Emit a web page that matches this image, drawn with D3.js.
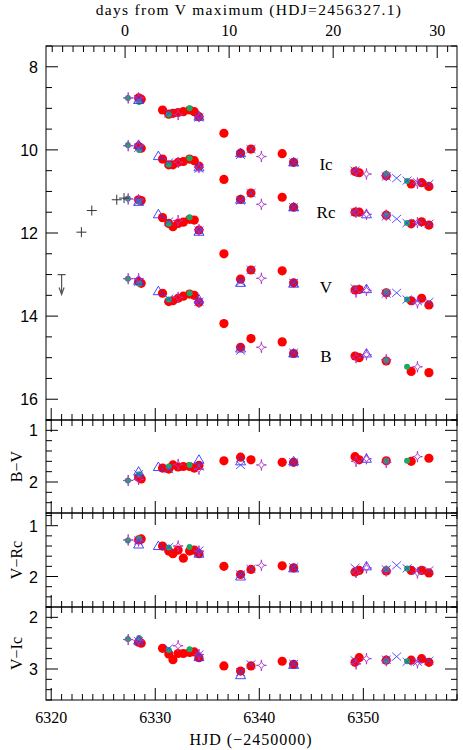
<!DOCTYPE html>
<html><head><meta charset="utf-8">
<script src="https://cdn.jsdelivr.net/npm/d3@7"></script>
<style>body{margin:0;background:#fff}</style>
</head><body>
<script>
const T0 = 6327.1;
const bandNames = ["Ic","Rc","V","B"];
// red filled circles
const redT  = [6328.4,6328.65,6330.7,6331.3,6331.7,6332.2,6332.7,6333.3,6333.75,6334.2,6336.6,6338.2,6339.2,6342.2,6343.3,6349.2,6349.6,6352.2,6354.6,6355.6,6356.3];
const redIc = [8.75,8.78,9.04,9.14,9.12,9.10,9.08,9.04,9.08,9.2,9.6,10.08,9.98,10.09,10.3,10.52,10.55,10.62,10.82,10.79,10.88];
const redRc = [9.92,9.96,10.22,10.36,10.36,10.30,10.28,10.22,10.26,10.39,10.71,11.19,11.04,11.14,11.38,11.5,11.5,11.57,11.78,11.73,11.81];
const redV  = [11.2,11.22,11.63,11.77,11.85,11.77,11.74,11.67,11.69,11.93,12.5,13.11,12.89,12.91,13.2,13.37,13.36,13.44,13.63,13.57,13.73];
const redB  = [13.17,13.21,13.45,13.65,13.63,13.57,13.52,13.47,13.5,13.67,14.18,14.75,14.54,14.62,14.9,14.96,15.0,15.08,15.33,null,15.36];
const redBV = [1.91,1.94,1.73,1.75,1.67,1.71,1.70,1.70,1.73,1.68,1.59,1.52,1.57,1.62,1.62,1.51,1.57,1.59,1.6,null,1.54];
const redVR = [1.28,1.26,1.4,1.5,1.55,1.48,1.64,1.5,1.48,1.55,1.8,1.96,1.86,1.79,1.83,1.91,1.88,1.89,1.88,1.88,1.93];
const redVI = [2.48,2.5,2.6,2.71,2.82,2.7,2.7,2.68,2.67,2.78,2.94,3.04,2.94,2.85,2.91,2.87,2.78,2.83,2.83,2.8,2.87];
// green small circles
const grnT  = [6327.37,6328.45,6331.3,6333.3,6352.2,6354.2];
const grnIc = [8.75,8.85,9.15,9.0,10.58,10.75];
const grnRc = [9.88,10.0,10.35,10.2,11.57,11.76];
const grnV  = [11.17,11.25,11.78,11.62,13.42,13.6];
const grnB  = [13.1,13.22,13.6,13.45,15.07,15.22];
const grnBV = [1.97,1.85,1.7,1.67,1.59,1.59];
// blue open triangles
const triT  = [6328.4,6330.3,6334.2,6338.2,6343.3,6350.3];
const triIc = [8.8,null,9.2,10.08,10.3,null];
const triRc = [9.88,10.15,10.42,11.2,11.38,11.55];
const triV  = [11.25,11.55,11.97,13.2,13.22,13.35];
const triB  = [13.15,13.4,13.6,14.78,14.9,14.9];
const triBV = [1.8,1.71,1.57,1.6,1.6,1.55];
// blue crosses
const crsT  = [6328.4,6331.3,6334.2,6338.2,6339.2,6343.3,6349.2,6352.2,6353.2,6354.2,6355.2,6356.3];
const crsIc = [8.78,9.12,9.22,10.12,9.98,10.3,10.5,10.64,10.68,10.74,10.78,10.82];
const crsRc = [9.95,10.3,10.45,11.22,11.04,11.38,11.5,11.6,11.66,11.76,11.76,11.78];
const crsV  = [11.24,11.72,11.94,13.18,12.89,13.2,13.33,13.46,13.44,13.6,13.64,13.66];
const crsB  = [13.18,13.58,13.65,14.83,null,14.88,null,null,null,null,null,null];
const crsBV = [1.85,1.75,1.7,1.67,null,1.62,null,null,null,null,null,null];
// purple open stars
const strT  = [6327.4,6328.4,6332.2,6334.2,6340.2,6349.3,6350.3,6352.2,6355.2];
const strIc = [8.75,8.75,9.15,9.2,10.16,10.52,10.58,10.62,10.8];
const strRc = [9.9,9.9,10.3,10.42,11.31,11.5,11.55,11.57,11.75];
const strV  = [11.18,11.2,11.7,11.92,13.09,13.42,13.38,13.46,13.68];
const strB  = [13.1,13.1,13.55,13.67,14.75,15.0,14.93,15.05,15.22];
const strBV = [1.97,1.95,1.66,1.75,1.67,1.6,1.55,1.62,1.51];
// pre-discovery V (plus signs) and upper limit
const preT = [6322.9,6323.9,6326.3,6327.0];
const preV = [11.98,11.46,11.2,11.16];
const limT = [6321.0];
const limV = [13.0];

const series = [
  {type:"red",  t:redT, Ic:redIc, Rc:redRc, V:redV, B:redB, BV:redBV, VR:redVR, VI:redVI},
  {type:"green",t:grnT, Ic:grnIc, Rc:grnRc, V:grnV, B:grnB, BV:grnBV},
  {type:"tri",  t:triT, Ic:triIc, Rc:triRc, V:triV, B:triB, BV:triBV},
  {type:"cross",t:crsT, Ic:crsIc, Rc:crsRc, V:crsV, B:crsB, BV:crsBV},
  {type:"star", t:strT, Ic:strIc, Rc:strRc, V:strV, B:strB, BV:strBV}
];

const W=463,H=750, L=46, R=457;
const svg = d3.select("body").append("svg").attr("width",W).attr("height",H);
const x = d3.scaleLinear([6319.5,6359.0],[L,R]);
const panels = [
  {key:"mag", top:46, bot:420, dom:[7.5,16.5], major:2, minor:0.5, labels:[8,10,12,14,16]},
  {key:"BV", top:420, bot:513, dom:[0.8,2.6], major:1, minor:0.2, labels:[1,2], title:"B\u2212V"},
  {key:"VR", top:513, bot:607, dom:[0.75,2.6], major:1, minor:0.2, labels:[1,2], title:"V\u2212Rc"},
  {key:"VI", top:607, bot:700, dom:[1.8,3.6], major:1, minor:0.2, labels:[2,3], title:"V\u2212Ic"}
];
panels.forEach(p=>p.y=d3.scaleLinear(p.dom,[p.top,p.bot]));

const numFont = "Liberation Sans, Arial, sans-serif";
const txtFont = "Liberation Serif, DejaVu Serif, serif";
const ax = svg.append("g").attr("stroke","#000").attr("stroke-width",1);

panels.forEach((p,i)=>{
  ax.append("rect").attr("x",L).attr("y",p.top).attr("width",R-L).attr("height",p.bot-p.top).attr("fill","none");
  const yt = d3.range(Math.ceil(p.dom[0]/p.minor-1e-6)*p.minor, p.dom[1]+1e-6, p.minor);
  yt.forEach(v=>{
    const maj = Math.abs(v/p.major-Math.round(v/p.major))<1e-6;
    const len = maj?12:6, yy=p.y(v);
    ax.append("line").attr("x1",L).attr("x2",L+len).attr("y1",yy).attr("y2",yy);
    ax.append("line").attr("x1",R).attr("x2",R-len).attr("y1",yy).attr("y2",yy);
  });
  p.labels.forEach(v=>{
    svg.append("text").attr("x",38).attr("y",p.y(v)+6).attr("text-anchor","end")
      .attr("font-family",numFont).attr("font-size",16).text(v);
  });
  d3.range(6320,6360,1).forEach(v=>{
    const len = v%10===0?12:6, xx=x(v);
    ax.append("line").attr("x1",xx).attr("x2",xx).attr("y1",p.bot).attr("y2",p.bot-len);
    if(i>0) ax.append("line").attr("x1",xx).attr("x2",xx).attr("y1",p.top).attr("y2",p.top+len);
  });
  if(p.title){
    svg.append("text").attr("transform",`translate(22,${(p.top+p.bot)/2}) rotate(-90)`)
      .attr("text-anchor","middle").attr("font-family",txtFont).attr("font-size",16).text(p.title);
  }
});
d3.range(-7,33,1).forEach(d=>{
  const xx=x(T0+d); if(xx<L||xx>R) return;
  const len = d%10===0?12:6;
  ax.append("line").attr("x1",xx).attr("x2",xx).attr("y1",46).attr("y2",46+len);
});
[0,10,20,30].forEach(d=>{
  svg.append("text").attr("x",x(T0+d)).attr("y",36).attr("text-anchor","middle")
    .attr("font-family",txtFont).attr("font-size",16).text(d);
});
svg.append("text").attr("x",249).attr("y",15).attr("text-anchor","middle")
  .attr("font-family",txtFont).attr("font-size",15.5).attr("letter-spacing",1.3)
  .text("days from V maximum (HDJ=2456327.1)");
[6320,6330,6340,6350].forEach(v=>{
  svg.append("text").attr("x",x(v)).attr("y",723).attr("text-anchor","middle")
    .attr("font-family",txtFont).attr("font-size",16).text(v);
});
svg.append("text").attr("x",251).attr("y",745).attr("text-anchor","middle")
  .attr("font-family",txtFont).attr("font-size",16).attr("letter-spacing",1).text("HJD (\u22122450000)");

const bandLab = [["Ic",10.35],["Rc",11.5],["V",13.3],["B",14.95]];
bandLab.forEach(([s,m])=>{
  svg.append("text").attr("x",326).attr("y",panels[0].y(m)+6).attr("text-anchor","middle")
    .attr("font-family",txtFont).attr("font-size",17).text(s);
});

function marker(g,type,cx,cy){
  if(type==="red") g.append("circle").attr("cx",cx).attr("cy",cy).attr("r",4.6).attr("fill","#ff0000");
  else if(type==="green") g.append("circle").attr("cx",cx).attr("cy",cy).attr("r",3).attr("fill","#1aaa66");
  else if(type==="tri") g.append("path").attr("d",`M${cx},${cy-5}L${cx+5},${cy+3.5}L${cx-5},${cy+3.5}Z`).attr("fill","none").attr("stroke","#3333ff").attr("stroke-width",0.9);
  else if(type==="cross") g.append("path").attr("d",`M${cx-4.5},${cy-4}L${cx+4.5},${cy+4}M${cx-4.5},${cy+4}L${cx+4.5},${cy-4}`).attr("stroke","#4444ff").attr("stroke-width",0.9);
  else if(type==="star") g.append("path").attr("d",`M${cx},${cy-5.5}Q${cx},${cy} ${cx+5},${cy}Q${cx},${cy} ${cx},${cy+5.5}Q${cx},${cy} ${cx-5},${cy}Q${cx},${cy} ${cx},${cy-5.5}Z`).attr("fill","none").attr("stroke","#aa33cc").attr("stroke-width",0.9);
  else if(type==="plus") g.append("path").attr("d",`M${cx-5},${cy}L${cx+5},${cy}M${cx},${cy-5}L${cx},${cy+5}`).attr("stroke","#333").attr("stroke-width",1);
}
const gm = svg.append("g");
series.forEach(s=>{
  s.t.forEach((t,i)=>{
    bandNames.forEach(b=>{ if(s[b][i]!=null) marker(gm,s.type,x(t),panels[0].y(s[b][i])); });
    const bv = s.BV ? s.BV[i] : (s.B[i]!=null&&s.V[i]!=null ? s.B[i]-s.V[i] : null);
    const vr = s.VR ? s.VR[i] : (s.V[i]!=null&&s.Rc[i]!=null ? s.V[i]-s.Rc[i] : null);
    const vi = s.VI ? s.VI[i] : (s.V[i]!=null&&s.Ic[i]!=null ? s.V[i]-s.Ic[i] : null);
    if(bv!=null) marker(gm,s.type,x(t),panels[1].y(bv));
    if(vr!=null) marker(gm,s.type,x(t),panels[2].y(vr));
    if(vi!=null) marker(gm,s.type,x(t),panels[3].y(vi));
  });
});
preT.forEach((t,i)=>marker(gm,"plus",x(t),panels[0].y(preV[i])));
limT.forEach((t,i)=>{
  const cx=x(t), cy=panels[0].y(limV[i]);
  gm.append("path").attr("d",`M${cx-4},${cy}L${cx+4},${cy}M${cx},${cy}L${cx},${cy+20}M${cx-2.5},${cy+13}L${cx},${cy+20}L${cx+2.5},${cy+13}`)
    .attr("stroke","#555").attr("fill","none").attr("stroke-width",1.2);
});
</script>
</body></html>
